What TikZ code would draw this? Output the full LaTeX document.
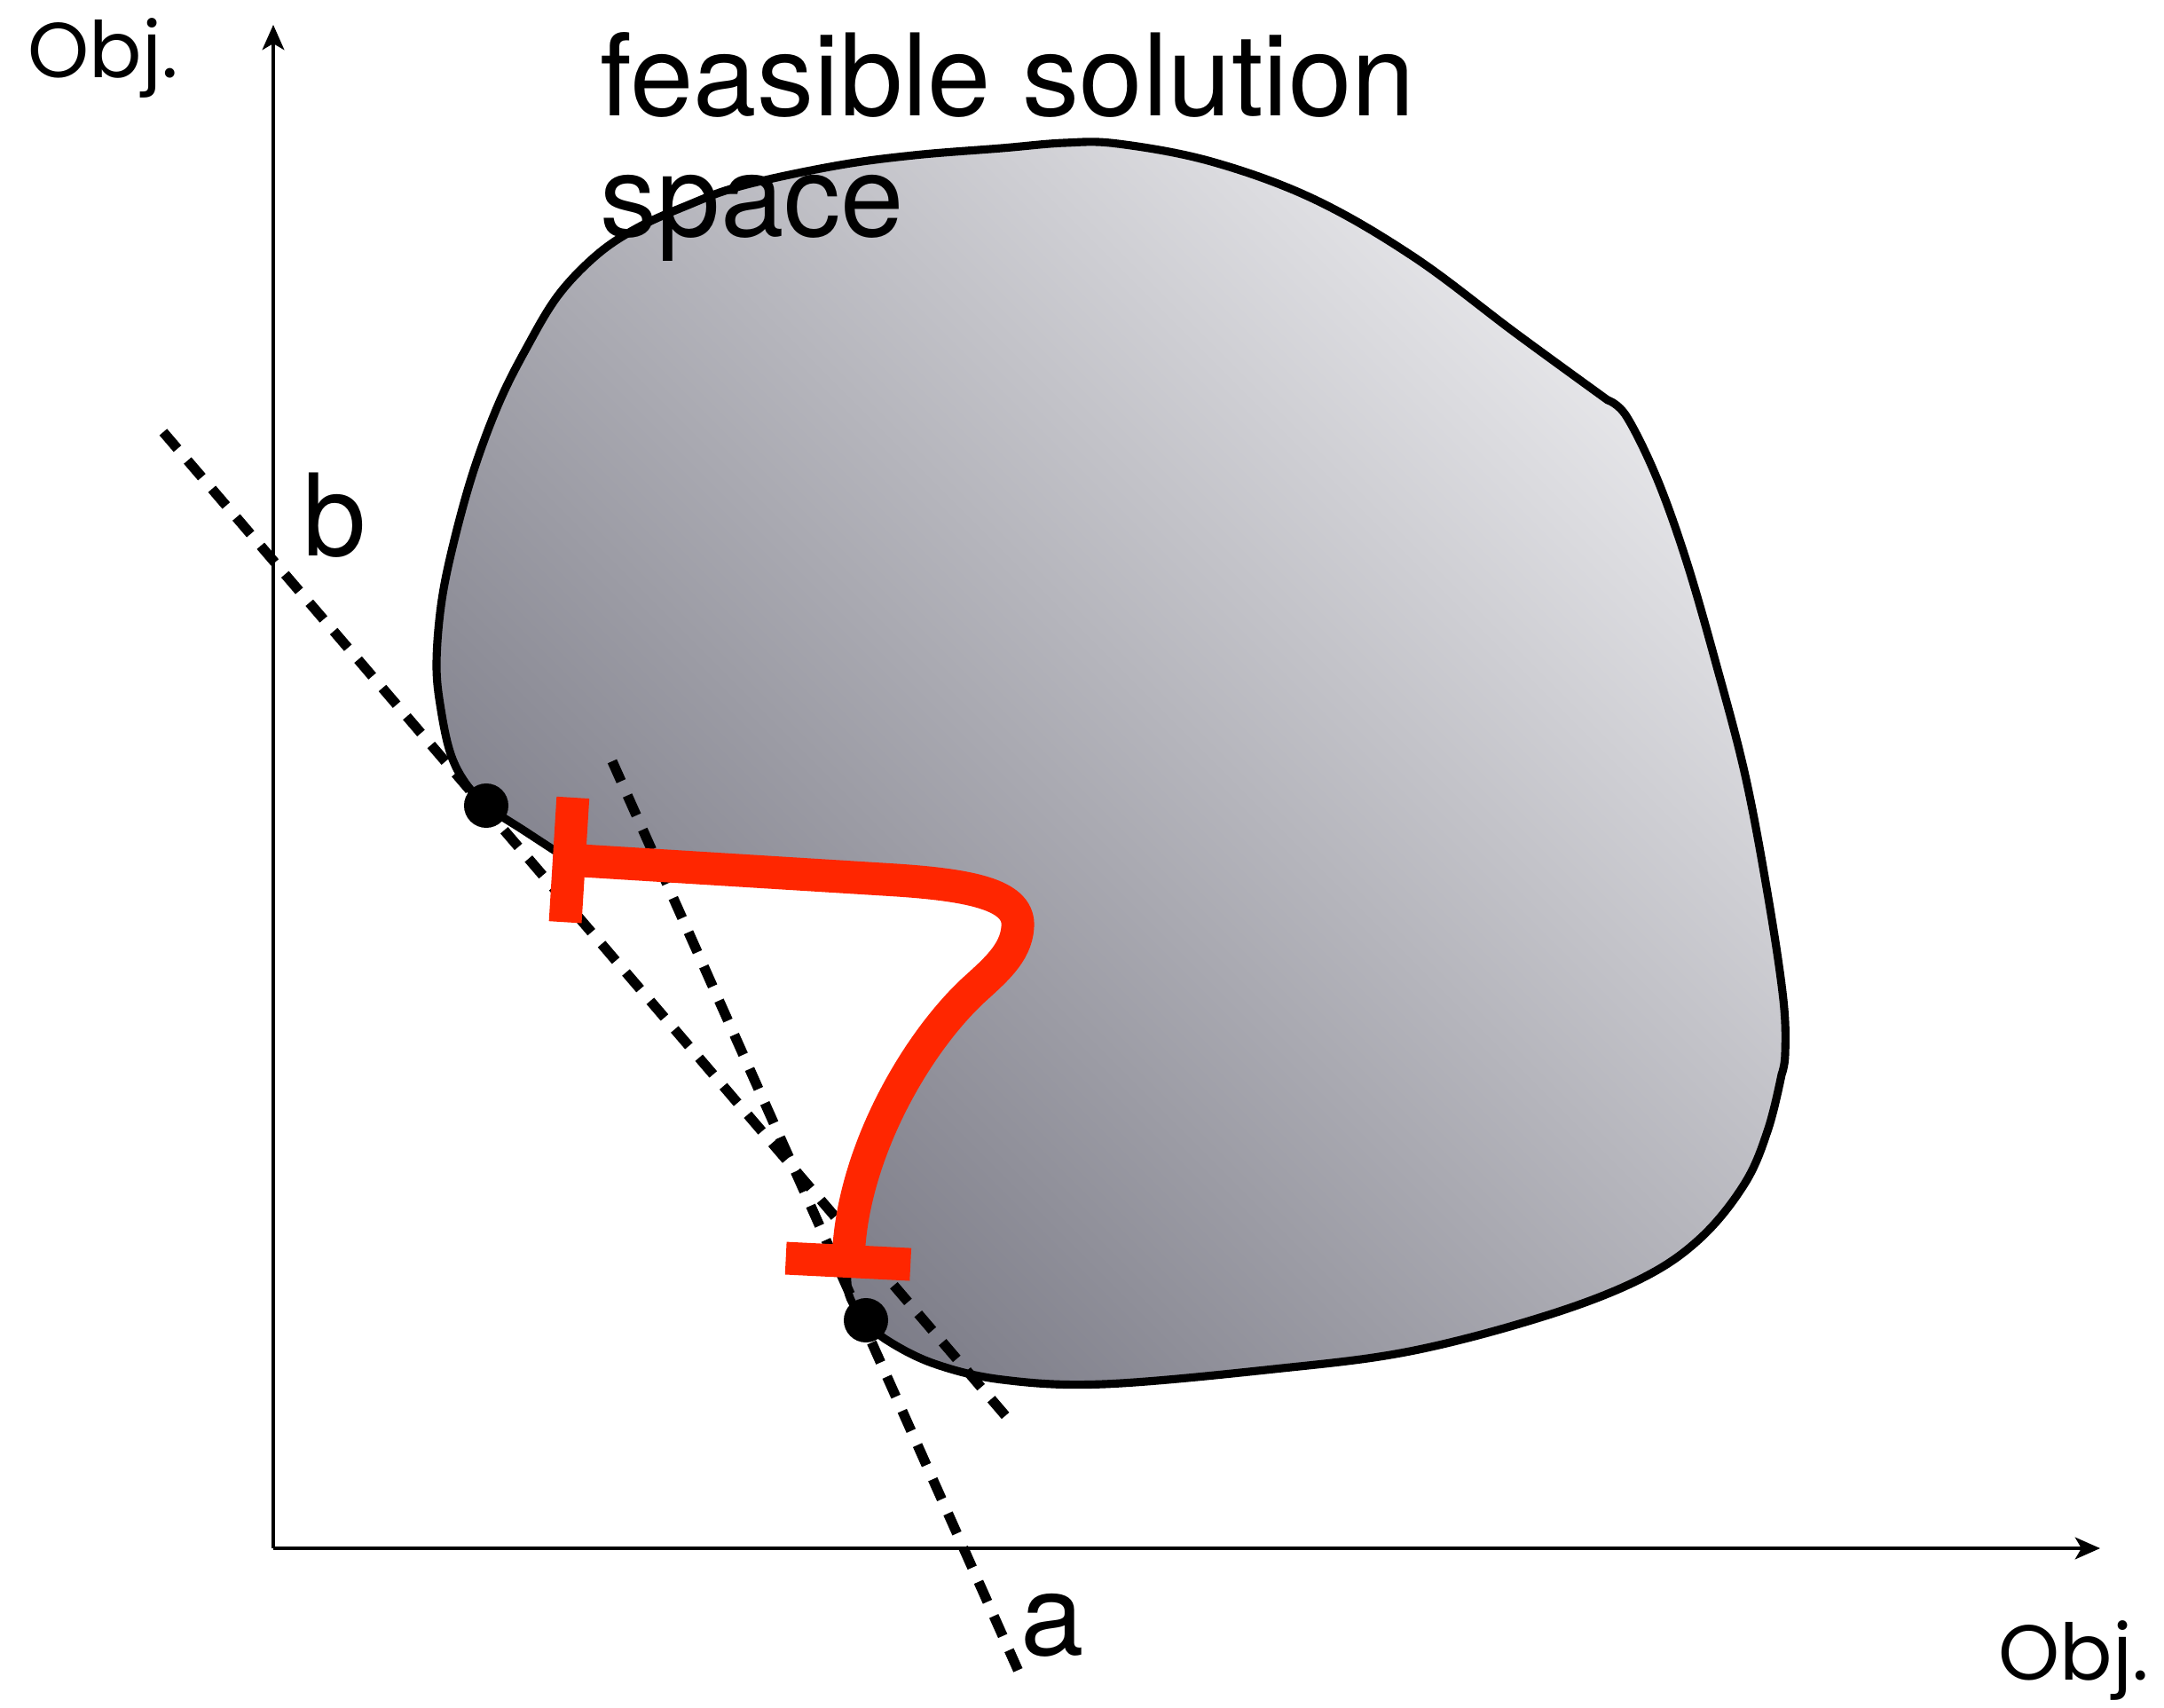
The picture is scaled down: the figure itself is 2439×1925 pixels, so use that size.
\documentclass[tikz,border=0pt]{standalone}
\usepackage{fontspec}
\setmainfont{TeX Gyre Heros}
\newfontfamily\objfont{Poppins}
\usetikzlibrary{arrows.meta}

\definecolor{walkred}{RGB}{255,38,0}
\definecolor{blobdark}{RGB}{118,118,130}
\definecolor{blobpale}{RGB}{232,232,235}

% rim of the feasible region, from the upper bar round to the lower bar
\newcommand{\blobrim}{plot[smooth, tension=0.6] coordinates {(641,969) (592,937) (548,908) (525,883) (508,850) (497,800) (492,750) (497,683) (510,617) (533,533) (562,455) (593,393) (629,333) (673,287) (718,257) (771,233) (834,210) (941,187) (1030,175) (1129,167) (1200,161) (1260,162) (1365,182) (1480,224) (1594,290) (1709,376) (1812,451)}
  -- plot[smooth, tension=0.6] coordinates {(1812,451) (1833,469) (1867,538) (1900,630) (1933,744) (1967,874) (1993,1012) (2010,1127) (2012,1188) (2008,1211)}
  -- plot[smooth, tension=0.6] coordinates {(2008,1211) (1993,1272) (1967,1333) (1917,1395) (1850,1441) (1742,1483) (1589,1523) (1436,1543) (1244,1560) (1130,1555) (1053,1537) (999,1510) (976,1488) (957,1460) (955,1421)}}

\begin{document}
\begin{tikzpicture}[x=0.01cm, y=-0.01cm,
    axis/.style={line width=1.15pt, -{Stealth[length=8pt, width=7pt, inset=2pt]}},
    tangent/.style={line width=3.2pt, dash pattern=on 7pt off 5pt},
    rim/.style={line width=2.6pt, line join=round},
    walk/.style={walkred, line width=10.5pt, {Bar[width=40pt]}-{Bar[width=40pt]}},
    lbl/.style={font=\fontsize{36.5}{38.7}\selectfont, inner sep=0pt},
    objlbl/.style={font=\objfont\fontsize{25}{27}\selectfont, inner sep=0pt, anchor=base west}]

  \useasboundingbox (0,0) rectangle (2439,1925);

  % axes
  \coordinate (origin) at (308,1745);
  \coordinate (ytip) at (308,28);
  \coordinate (xtip) at (2367,1745);
  \draw[axis] (origin) -- (ytip);
  \draw[axis] (origin) -- (xtip);

  % shaded region, closed along the red walk
  \shade[top color=blobpale, bottom color=blobdark, shading angle=-45]
    \blobrim -- (955,1440)
    .. controls (962,1300) and (1030,1180) .. (1095,1118)
    .. controls (1120,1095) and (1145,1075) .. (1147,1045)
    .. controls (1150,1010) and (1100,998) .. (1011,992) -- (623,968) -- cycle;
  \draw[rim] \blobrim;

  % tangent lines
  \coordinate (b0) at (184,487);
  \coordinate (b1) at (1143,1607);
  \coordinate (a0) at (690,858);
  \coordinate (a1) at (1153,1895);
  \draw[tangent] (b0) -- (b1);
  \draw[tangent] (a0) -- (a1);

  % red walk between the two bars
  \draw[walk] (623,968) -- (1011,992)
    .. controls (1100,998) and (1150,1010) .. (1147,1045)
    .. controls (1145,1075) and (1120,1095) .. (1095,1118)
    .. controls (1030,1180) and (962,1300) .. (955,1440);

  % touching points
  \coordinate (solb) at (548,908);
  \coordinate (sola) at (976,1488);
  \fill (solb) circle (0.25cm);
  \fill (sola) circle (0.25cm);

  % labels
  \node[lbl, anchor=north west, align=left] (space) at (676,36) {feasible solution\\space};
  \node[lbl, anchor=base west] (lb) at (341,627) {b};
  \node[lbl, anchor=base west] (la) at (1150,1865) {a};
  \node[objlbl] (objy) at (31,88) {Obj.};
  \node[objlbl] (objx) at (2252,1893) {Obj.};
\end{tikzpicture}
\end{document}
